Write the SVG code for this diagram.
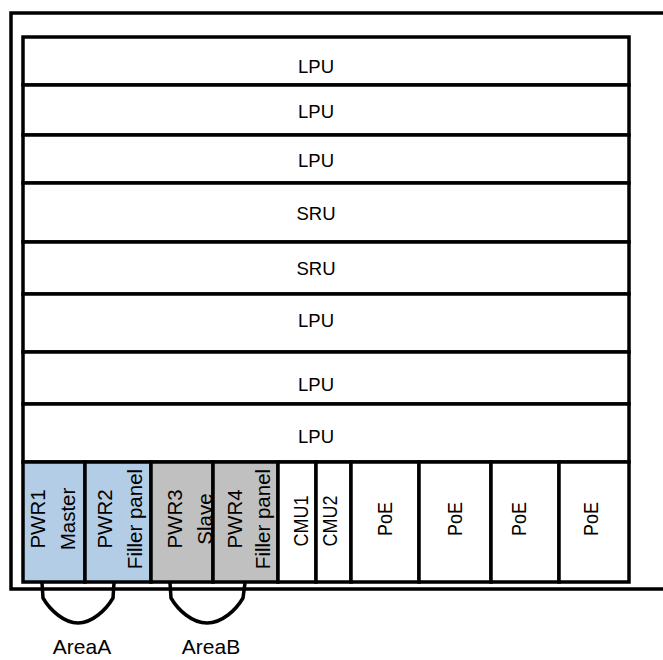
<svg xmlns="http://www.w3.org/2000/svg" width="663" height="660" viewBox="0 0 663 660">
<style>
.bx{fill:#fff;stroke:#000;stroke-width:3.5}
.blue{fill:#b4cde6;stroke:#000;stroke-width:3.5}
.gray{fill:#c0c0c0;stroke:#000;stroke-width:3.5}
.lbl{font-family:"Liberation Sans",Arial,sans-serif;font-size:18.5px;fill:#000;text-anchor:middle}
.vl{font-family:"Liberation Sans",Arial,sans-serif;font-size:20.5px;fill:#000;text-anchor:middle}
.ar{font-family:"Liberation Sans",Arial,sans-serif;font-size:21px;fill:#000;text-anchor:middle}
.ln{fill:none;stroke:#000;stroke-width:3.5}
</style>
<rect width="663" height="660" fill="#fff"/>
<g id="frame"><path class="ln" d="M663,13 H11 V589 H663"/></g>
<g id="row1"><rect class="bx" x="23" y="37" width="606" height="48"/><text class="lbl" x="316" y="73">LPU</text></g>
<g id="row2"><rect class="bx" x="23" y="85" width="606" height="50"/><text class="lbl" x="316" y="118">LPU</text></g>
<g id="row3"><rect class="bx" x="23" y="135" width="606" height="48"/><text class="lbl" x="316" y="167">LPU</text></g>
<g id="row4"><rect class="bx" x="23" y="183" width="606" height="59"/><text class="lbl" x="316" y="220">SRU</text></g>
<g id="row5"><rect class="bx" x="23" y="242" width="606" height="52"/><text class="lbl" x="316" y="275">SRU</text></g>
<g id="row6"><rect class="bx" x="23" y="294" width="606" height="58"/><text class="lbl" x="316" y="327">LPU</text></g>
<g id="row7"><rect class="bx" x="23" y="352" width="606" height="52"/><text class="lbl" x="316" y="391">LPU</text></g>
<g id="row8"><rect class="bx" x="23" y="404" width="606" height="58"/><text class="lbl" x="316" y="443">LPU</text></g>
<g id="pwr1"><rect class="blue" x="23" y="462" width="62" height="120"/>
<text class="vl" transform="translate(45,519) rotate(-90)">PWR1</text>
<text class="vl" transform="translate(75,519) rotate(-90)">Master</text></g>
<g id="pwr2"><rect class="blue" x="85" y="462" width="66" height="120"/>
<text class="vl" transform="translate(112,519) rotate(-90)">PWR2</text>
<text class="vl" transform="translate(142,519) rotate(-90)">Filler panel</text></g>
<g id="pwr3"><rect class="gray" x="151" y="462" width="62" height="120"/>
<text class="vl" transform="translate(182,519) rotate(-90)">PWR3</text>
<text class="vl" transform="translate(212,519) rotate(-90)">Slave</text></g>
<g id="pwr4"><rect class="gray" x="213" y="462" width="65" height="120"/>
<text class="vl" transform="translate(242,519) rotate(-90)">PWR4</text>
<text class="vl" transform="translate(270,519) rotate(-90)">Filler panel</text></g>
<g id="cmu1"><rect class="bx" x="278" y="462" width="38" height="120"/>
<text class="vl" transform="translate(308,521) rotate(-90)" textLength="51" lengthAdjust="spacingAndGlyphs">CMU1</text></g>
<g id="cmu2"><rect class="bx" x="316" y="462" width="35" height="120"/>
<text class="vl" transform="translate(337,521) rotate(-90)" textLength="51" lengthAdjust="spacingAndGlyphs">CMU2</text></g>
<g id="poe1"><rect class="bx" x="351" y="462" width="68" height="120"/>
<text class="vl" transform="translate(392,519) rotate(-90)" textLength="34" lengthAdjust="spacingAndGlyphs">PoE</text></g>
<g id="poe2"><rect class="bx" x="419" y="462" width="72" height="120"/>
<text class="vl" transform="translate(462,519) rotate(-90)" textLength="34" lengthAdjust="spacingAndGlyphs">PoE</text></g>
<g id="poe3"><rect class="bx" x="491" y="462" width="68" height="120"/>
<text class="vl" transform="translate(526,519) rotate(-90)" textLength="34" lengthAdjust="spacingAndGlyphs">PoE</text></g>
<g id="poe4"><rect class="bx" x="559" y="462" width="70" height="120"/>
<text class="vl" transform="translate(598,519) rotate(-90)" textLength="34" lengthAdjust="spacingAndGlyphs">PoE</text></g>
<g id="connectors">
<path class="ln" d="M42,583 L43,598 C50,610 64,623 78,623 C92,623 106,610 113,598 L114,583"/>
<path class="ln" d="M170,583 L171,598 C178,610 192,623 207,623 C222,623 236,610 243,598 L245,583"/>
</g>
<g id="areaA"><text class="ar" x="82" y="654">AreaA</text></g>
<g id="areaB"><text class="ar" x="211" y="654">AreaB</text></g>
</svg>
